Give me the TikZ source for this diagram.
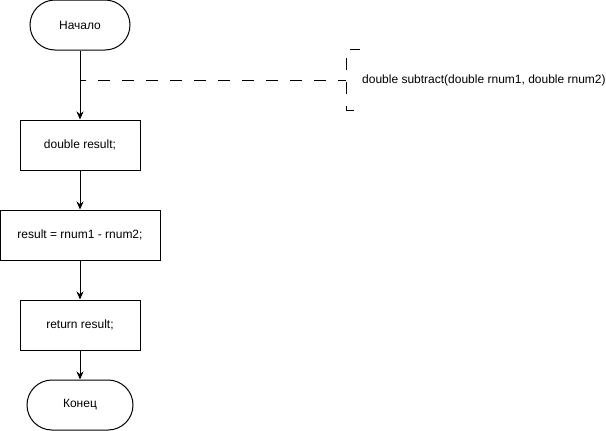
\documentclass[tikz,border=0pt]{standalone}
\usepackage{fontspec}
\setmainfont{Liberation Sans}
\usetikzlibrary{arrows.meta}
\begin{document}
\begin{tikzpicture}[x=1pt,y=-1pt,
  every node/.style={font=\fontsize{12}{14}\selectfont},
  proc/.style={draw,line width=1pt,minimum height=50pt,inner sep=0pt},
  term/.style={draw,line width=1pt,minimum height=50pt,rounded corners=25pt,inner sep=0pt},
  flow/.style={line width=1pt,-{Stealth[length=8pt,width=7pt]}},
  cdash/.style={line width=1pt,dash pattern=on 12pt off 12pt}]
\useasboundingbox (0,0) rectangle (606,431);
\node[term,minimum width=100pt] (start) at (80,25) {Начало};
\node[proc,minimum width=120pt] (b1) at (80,145) {double result;};
\node[proc,minimum width=160pt] (b2) at (80,235) {result = rnum1 - rnum2;};
\node[proc,minimum width=120pt] (b3) at (80,325) {return result;};
\node[term,minimum width=106pt] (end) at (80,405) {Конец};
\node[anchor=west,minimum height=60pt,inner xsep=16pt,inner ysep=0pt,align=left] (cm) at (346,80) {double subtract(double rnum1, double rnum2)};
\coordinate (j) at (80,80);
\draw[flow] (start) -- (b1);
\draw[flow] (b1) -- (b2);
\draw[flow] (b2) -- (b3);
\draw[flow] (b3) -- (end);
\draw[cdash,dash phase=4pt] (cm.west) -- (j);
\draw[cdash,dash phase=2pt] ([xshift=14pt]cm.north west) -- (cm.north west) -- (cm.south west) -- ([xshift=14pt]cm.south west);
\end{tikzpicture}
\end{document}
